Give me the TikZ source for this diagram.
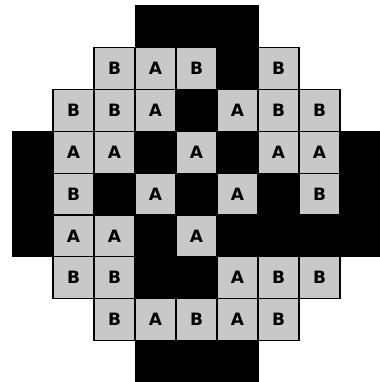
\documentclass[tikz,border=0pt]{standalone}
\usepackage{fontspec}
\setsansfont{DejaVu Sans}
\usepackage{xcolor}
\definecolor{coregray}{RGB}{200,200,200}
\usepackage{tikz}
\usetikzlibrary{positioning}
\tikzset{
  pin/.style={draw=black, line width=1.3pt, fill=coregray, rectangle,
    minimum width=41pt, minimum height=41.8pt, inner sep=0pt,
    font=\fontsize{17}{17}\selectfont\sffamily\bfseries},
  blocked/.style={fill=black, draw=black, line width=1pt}
}

\begin{document}
\begin{tikzpicture}[x=41pt, y=-41.8pt]
  % Frame, same proportions as the reference
  \useasboundingbox (-0.2927,-0.1435) rectangle (8.951,8.995);

  % --- Black body of the core ---
  \draw[blocked] (3,0) -- (6,0) -- (6,1) -- (7,1) -- (7,2) -- (8,2) -- (8,3)
    -- (9,3) -- (9,6) -- (8,6) -- (8,7) -- (7,7) -- (7,8) -- (6,8) -- (6,9)
    -- (3,9) -- (3,8) -- (2,8) -- (2,7) -- (1,7) -- (1,6) -- (0,6) -- (0,3)
    -- (1,3) -- (1,2) -- (2,2) -- (2,1) -- (3,1) -- cycle;

  % --- Row 1 ---
  \node[pin] (r1c2) at (2.5,1.5) {B};
  \node[pin] (r1c3) at (3.5,1.5) {A};
  \node[pin] (r1c4) at (4.5,1.5) {B};
  \node[pin] (r1c6) at (6.5,1.5) {B};

  % --- Row 2 ---
  \node[pin] (r2c1) at (1.5,2.5) {B};
  \node[pin] (r2c2) at (2.5,2.5) {B};
  \node[pin] (r2c3) at (3.5,2.5) {A};
  \node[pin] (r2c5) at (5.5,2.5) {A};
  \node[pin] (r2c6) at (6.5,2.5) {B};
  \node[pin] (r2c7) at (7.5,2.5) {B};

  % --- Row 3 ---
  \node[pin] (r3c1) at (1.5,3.5) {A};
  \node[pin] (r3c2) at (2.5,3.5) {A};
  \node[pin] (r3c4) at (4.5,3.5) {A};
  \node[pin] (r3c6) at (6.5,3.5) {A};
  \node[pin] (r3c7) at (7.5,3.5) {A};

  % --- Row 4 ---
  \node[pin] (r4c1) at (1.5,4.5) {B};
  \node[pin] (r4c3) at (3.5,4.5) {A};
  \node[pin] (r4c5) at (5.5,4.5) {A};
  \node[pin] (r4c7) at (7.5,4.5) {B};

  % --- Row 5 ---
  \node[pin] (r5c1) at (1.5,5.5) {A};
  \node[pin] (r5c2) at (2.5,5.5) {A};
  \node[pin] (r5c4) at (4.5,5.5) {A};

  % --- Row 6 ---
  \node[pin] (r6c1) at (1.5,6.5) {B};
  \node[pin] (r6c2) at (2.5,6.5) {B};
  \node[pin] (r6c5) at (5.5,6.5) {A};
  \node[pin] (r6c6) at (6.5,6.5) {B};
  \node[pin] (r6c7) at (7.5,6.5) {B};

  % --- Row 7 ---
  \node[pin] (r7c2) at (2.5,7.5) {B};
  \node[pin] (r7c3) at (3.5,7.5) {A};
  \node[pin] (r7c4) at (4.5,7.5) {B};
  \node[pin] (r7c5) at (5.5,7.5) {A};
  \node[pin] (r7c6) at (6.5,7.5) {B};
\end{tikzpicture}
\end{document}
